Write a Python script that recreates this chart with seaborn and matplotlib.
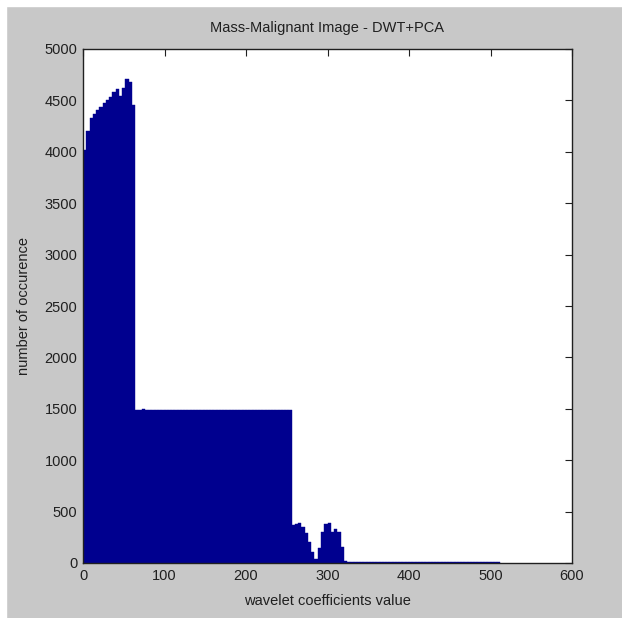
"""Histogram of DWT+PCA wavelet coefficients — mass malignant image."""
import numpy as np
import pandas as pd
import matplotlib
matplotlib.use("Agg")
import matplotlib.pyplot as plt
import seaborn as sns

# ─── data (bin width 4) ───
BIN_WIDTH = 4
head_counts = [4020, 4200, 4330, 4370, 4410, 4440, 4470, 4500,
               4530, 4580, 4610, 4540, 4620, 4710, 4680, 4460]
plateau_counts = [1492, 1490, 1494, 1491, 1489, 1492, 1490, 1493,
                  1491, 1489, 1492, 1490, 1493, 1490, 1491, 1489,
                  1492, 1490, 1489, 1492, 1490, 1493, 1490, 1491,
                  1489, 1492, 1490, 1489, 1492, 1490, 1493, 1490,
                  1490, 1491, 1489, 1492, 1490, 1492, 1489, 1490,
                  1492, 1490, 1491, 1489, 1492, 1490, 1491, 1490]
bump_counts = [370, 380, 385, 350, 290, 200, 110, 40,
               150, 300, 380, 390, 300, 330, 300, 160, 20]
tail_counts = [12, 10, 12, 11, 9, 11, 12, 10, 11, 12, 9, 12,
               10, 11, 11, 12, 10, 9, 12, 11, 12, 10, 11, 11,
               9, 12, 10, 12, 11, 10, 12, 11, 9, 11, 12, 10,
               12, 11, 10, 12, 9, 11, 11, 12, 12, 13, 14]

counts = head_counts + plateau_counts + bump_counts + tail_counts
bin_left = np.arange(len(counts)) * BIN_WIDTH
df = pd.DataFrame({"value": bin_left + BIN_WIDTH / 2, "count": counts})

TITLE = "Mass-Malignant Image - DWT+PCA"
XLABEL = "wavelet coefficients value"
YLABEL = "number of occurence"
BAR_COLOR = "#00008f"
BG_GRAY = "#c8c8c8"

sns.set_style("white")
plt.rcParams["font.family"] = ["Liberation Sans Narrow", "Liberation Sans", "DejaVu Sans"]
plt.rcParams["xtick.direction"] = "in"
plt.rcParams["ytick.direction"] = "in"

fig = plt.figure(figsize=(6.22, 6.18), dpi=100, facecolor=BG_GRAY)
# thin white margin top/left like the screenshot
fig.patches.append(plt.Rectangle((0, 1 - 6 / 618), 1, 6 / 618, transform=fig.transFigure,
                                 color="white", zorder=0))
fig.patches.append(plt.Rectangle((0, 0), 6 / 622, 1, transform=fig.transFigure,
                                 color="white", zorder=0))

ax = fig.add_axes([83 / 622, 1 - 563 / 618, 489 / 622, 514 / 618])
ax.set_facecolor("white")

sns.histplot(data=df, x="value", weights="count",
             bins=len(counts), binrange=(0, len(counts) * BIN_WIDTH),
             color=BAR_COLOR, alpha=1, edgecolor=BAR_COLOR, linewidth=0.3, ax=ax)

ax.set_xlim(0, 600)
ax.set_ylim(0, 5000)
ax.set_xticks(np.arange(0, 601, 100))
ax.set_yticks(np.arange(0, 5001, 500))
ax.tick_params(axis="both", labelsize=10.5, length=5, width=0.8, colors="#202020",
               top=True, right=True, pad=4)
for s in ax.spines.values():
    s.set_visible(True)
    s.set_linewidth(1.0)
    s.set_color("#202020")

ax.set_title(TITLE, fontsize=10.5, color="#202020", pad=12)
ax.set_xlabel(XLABEL, fontsize=10.5, color="#202020", labelpad=8)
ax.set_ylabel(YLABEL, fontsize=10.5, color="#202020", labelpad=10)

fig.savefig("out.png", dpi=100, facecolor=BG_GRAY)
plt.close()
